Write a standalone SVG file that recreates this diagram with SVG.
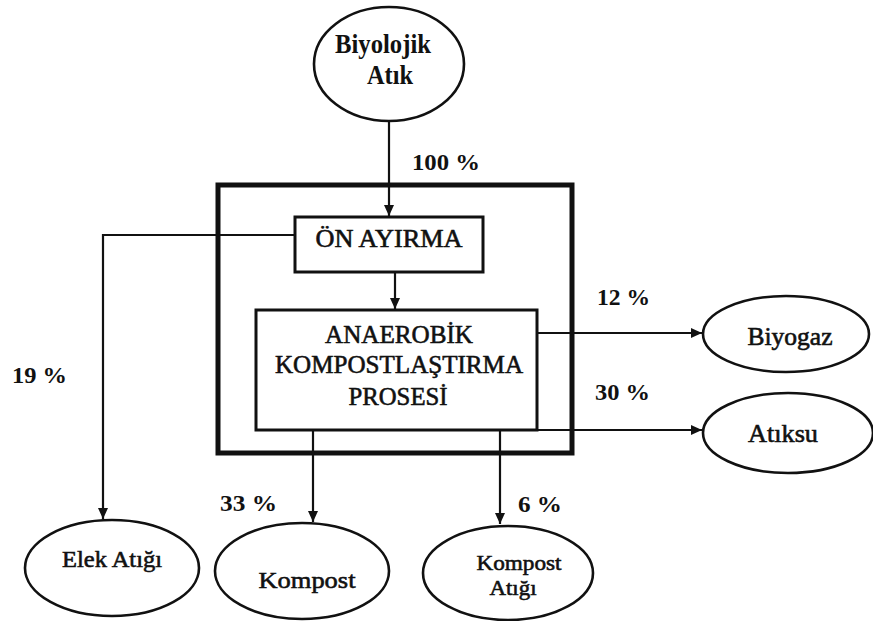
<svg xmlns="http://www.w3.org/2000/svg" width="873" height="621" viewBox="0 0 873 621">
  <style>
    .node-ellipse { fill: #ffffff; stroke: #111111; stroke-width: 2.6; }
    .node-box { fill: #ffffff; stroke: #111111; stroke-width: 3; }
    .frame { fill: none; stroke: #111111; stroke-width: 5; }
    .link { fill: none; stroke: #111111; stroke-width: 2.2; }
    text { font-family: "Liberation Serif", "Times New Roman", serif; fill: #111111; }
    .label { font-weight: bold; text-anchor: middle; }
    .soft { font-weight: normal; stroke: #111111; stroke-width: 0.6; text-anchor: middle; }
    .pct { font-weight: bold; font-size: 24px; }
  </style>
  <defs>
    <marker id="arrow" markerUnits="userSpaceOnUse" markerWidth="12" markerHeight="12" refX="11" refY="6" orient="auto">
      <path d="M0,1 L11,6 L0,11 Z" fill="#111111"/>
    </marker>
  </defs>

  <rect width="873" height="621" fill="#ffffff"/>

  <!-- process boundary -->
  <rect class="frame" x="218" y="185" width="354" height="268"/>

  <!-- connectors -->
  <g id="connectors">
    <line class="link" x1="389" y1="121" x2="389" y2="216" marker-end="url(#arrow)"/>
    <line class="link" x1="395" y1="272" x2="395" y2="309" marker-end="url(#arrow)"/>
    <polyline class="link" points="295,235 103,235 103,519" marker-end="url(#arrow)"/>
    <line class="link" x1="537" y1="333" x2="702" y2="333" marker-end="url(#arrow)"/>
    <line class="link" x1="537" y1="430" x2="702" y2="430" marker-end="url(#arrow)"/>
    <line class="link" x1="313" y1="430" x2="313" y2="522" marker-end="url(#arrow)"/>
    <line class="link" x1="500" y1="430" x2="500" y2="524" marker-end="url(#arrow)"/>
  </g>

  <!-- flow percentages -->
  <g id="percentages">
    <text class="pct" x="412" y="170" textLength="68" lengthAdjust="spacingAndGlyphs">100 %</text>
    <text class="pct" x="597" y="305" textLength="53" lengthAdjust="spacingAndGlyphs">12 %</text>
    <text class="pct" x="595" y="400" textLength="55" lengthAdjust="spacingAndGlyphs">30 %</text>
    <text class="pct" x="12" y="383" textLength="55" lengthAdjust="spacingAndGlyphs">19 %</text>
    <text class="pct" x="220" y="511" textLength="57" lengthAdjust="spacingAndGlyphs">33 %</text>
    <text class="pct" x="518" y="512" textLength="44" lengthAdjust="spacingAndGlyphs">6 %</text>
  </g>

  <g id="biyolojik-atik">
    <ellipse class="node-ellipse" cx="389" cy="64" rx="75" ry="57"/>
    <text class="label" x="383" y="53" font-size="27" textLength="96" lengthAdjust="spacingAndGlyphs">Biyolojik</text>
    <text class="label" x="390" y="84" font-size="27" textLength="46" lengthAdjust="spacingAndGlyphs">Atık</text>
  </g>

  <g id="on-ayirma">
    <rect class="node-box" x="295" y="217" width="188" height="55"/>
    <text class="soft" x="389" y="247" font-size="25" textLength="147" lengthAdjust="spacingAndGlyphs">ÖN AYIRMA</text>
  </g>

  <g id="anaerobik-kompostlastirma">
    <rect class="node-box" x="256" y="310" width="281" height="120"/>
    <text class="soft" x="399" y="343" font-size="26" textLength="148" lengthAdjust="spacingAndGlyphs">ANAEROBİK</text>
    <text class="soft" x="399" y="373" font-size="26" textLength="248" lengthAdjust="spacingAndGlyphs">KOMPOSTLAŞTIRMA</text>
    <text class="soft" x="398" y="405" font-size="26" textLength="99" lengthAdjust="spacingAndGlyphs">PROSESİ</text>
  </g>

  <g id="biyogaz">
    <ellipse class="node-ellipse" cx="786" cy="334" rx="83" ry="38"/>
    <text class="soft" x="790" y="345" font-size="25" textLength="85" lengthAdjust="spacingAndGlyphs">Biyogaz</text>
  </g>

  <g id="atiksu">
    <ellipse class="node-ellipse" cx="788" cy="433" rx="85" ry="40"/>
    <text class="soft" x="783" y="442" font-size="25" textLength="70" lengthAdjust="spacingAndGlyphs">Atıksu</text>
  </g>

  <g id="elek-atigi">
    <ellipse class="node-ellipse" cx="112" cy="568" rx="87" ry="48"/>
    <text class="soft" x="112" y="567" font-size="24" textLength="100" lengthAdjust="spacingAndGlyphs">Elek Atığı</text>
  </g>

  <g id="kompost">
    <ellipse class="node-ellipse" cx="302" cy="571" rx="87" ry="48"/>
    <text class="soft" x="307" y="588" font-size="24" textLength="97" lengthAdjust="spacingAndGlyphs">Kompost</text>
  </g>

  <g id="kompost-atigi">
    <ellipse class="node-ellipse" cx="508" cy="573" rx="85" ry="47"/>
    <text class="soft" x="519" y="570" font-size="22" textLength="85" lengthAdjust="spacingAndGlyphs">Kompost</text>
    <text class="soft" x="513" y="595" font-size="22" textLength="47" lengthAdjust="spacingAndGlyphs">Atığı</text>
  </g>
</svg>
